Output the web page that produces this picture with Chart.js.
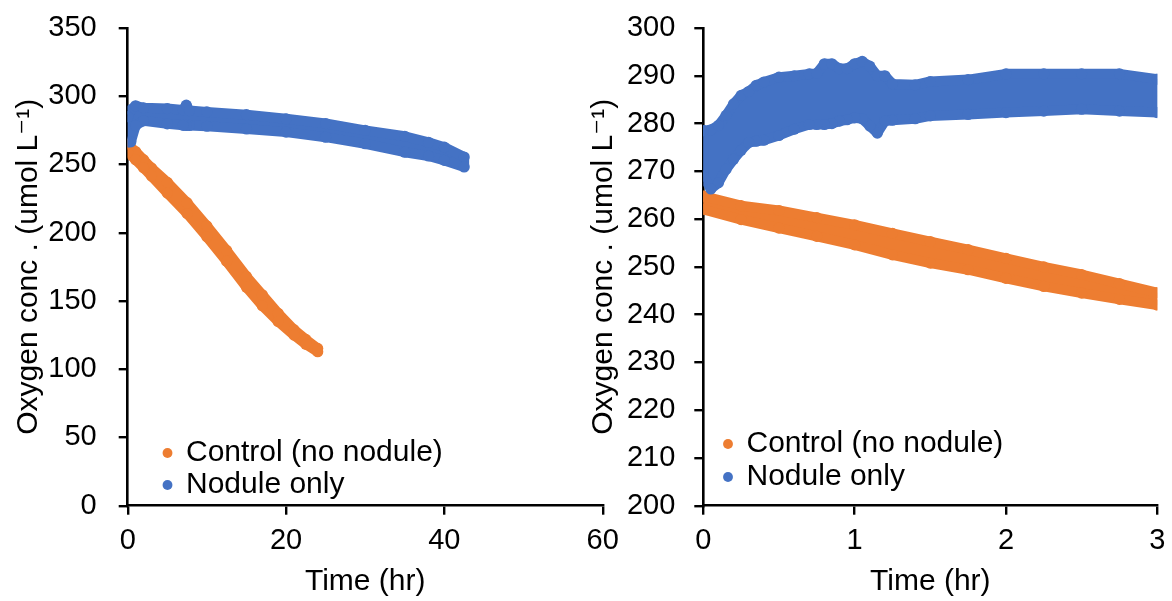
<!DOCTYPE html>
<html><head><meta charset="utf-8">
<script src="https://cdn.jsdelivr.net/npm/chart.js@4.4.1/dist/chart.umd.min.js"></script>
<style>
html,body{margin:0;padding:0;background:#fff;}
#wrap{position:relative;width:1172px;height:601px;overflow:hidden;background:#fff;}
canvas{position:absolute;left:0;top:0;}
</style></head><body>
<div id="wrap"><canvas id="c1" width="1172" height="601"></canvas><canvas id="c2" width="1172" height="601"></canvas></div>
<script>
// ---------- Data (upper/lower edges of each point cloud) ----------
const seriesNames = ['Control (no nodule)', 'Nodule only'];
const xTitle = 'Time (hr)';
const yTitle = 'Oxygen conc . (umol L\u207B\u00B9)';

// Left panel (0-60 hr)
const leftControlTime  = [0, 1, 2, 3, 5, 7.5, 10, 12.5, 15, 17, 19, 21, 22.5, 24];
const leftControlUpper = [265, 259.5, 253.5, 247.5, 237, 222, 205, 187, 168, 154.5, 141, 129, 121.8, 115.2];
const leftControlLower = [259, 253.5, 247.5, 241.5, 229, 214, 197, 179, 160, 146.5, 135, 125, 118.2, 112.8];

const leftNoduleTime  = [0, 0.4, 1, 2, 5, 7, 7.4, 7.8, 10, 15, 20, 25, 30, 35, 38, 40, 42.5];
const leftNoduleUpper = [285, 290, 293, 291.5, 291, 290, 293.5, 289.5, 288.5, 286.5, 283.5, 280, 275, 270.7, 266.3, 262.7, 255.5];
const leftNoduleLower = [266.4, 266.6, 278.5, 282, 279.8, 278.7, 278.6, 278.6, 278, 276, 273.7, 270, 265.2, 259, 256.2, 253, 248.2];

// Right panel (0-3 hr)
const rightControlTime  = [0, 0.25, 0.5, 0.75, 1, 1.25, 1.5, 1.75, 2, 2.25, 2.5, 2.75, 3];
const rightControlUpper = [264.8, 262.8, 261.8, 260.3, 258.8, 257, 255.3, 253.6, 251.8, 250, 248.4, 246.5, 244.6];
const rightControlLower = [262, 259.9, 258.1, 256.4, 254.6, 252.5, 250.8, 249.4, 247.6, 245.9, 244.5, 243.2, 242];

const rightNoduleTime  = [0, 0.05, 0.1, 0.15, 0.2, 0.25, 0.3, 0.35, 0.4, 0.5, 0.6, 0.7, 0.75, 0.8, 0.85, 0.9, 0.95, 1.0, 1.05, 1.1, 1.15, 1.2, 1.25, 1.4, 1.5, 1.75, 2, 2.25, 2.5, 2.75, 3];
const rightNoduleUpper = [278.5, 278.7, 279.6, 281.7, 284.1, 285.9, 286.7, 288, 288.7, 289.7, 290, 290.4, 290.5, 292.5, 292.5, 291.5, 291.5, 292.5, 293, 292, 290, 290, 288.3, 288.1, 288.8, 289.2, 290.4, 290.4, 290.4, 290.4, 289.3];
const rightNoduleLower = [269, 266.3, 267.6, 270.4, 272.5, 274.4, 276, 276.3, 276.5, 277.5, 278.8, 279.8, 279.8, 279.8, 280, 280.5, 280.8, 281.2, 281, 279.5, 278, 280.5, 280.7, 281, 281.6, 281.9, 282.3, 282.6, 283, 282.6, 282.3];

// Axis ticks
const leftXTicks  = [0, 20, 40, 60];
const leftYTicks  = [0, 50, 100, 150, 200, 250, 300, 350];
const rightXTicks = [0, 1, 2, 3];
const rightYTicks = [200, 210, 220, 230, 240, 250, 260, 270, 280, 290, 300];

// ---------- Styling / chart construction ----------
const ORANGE = '#ED7D31', BLUE = '#4472C4';
const FAMILY = "'Liberation Sans', Arial, 'DejaVu Sans', sans-serif";

function band(t, up, lo) {
  const pts = [];
  for (let i = 0; i < t.length; i++) pts.push({x: t[i], y: up[i]});
  for (let i = t.length - 1; i >= 0; i--) pts.push({x: t[i], y: lo[i]});
  pts.push({x: t[0], y: up[0]});
  return pts;
}
function ds(label, color, data, order) {
  return {
    label, data, order,
    showLine: true, fill: 'shape', tension: 0,
    backgroundColor: color, borderColor: color, borderWidth: 10,
    borderJoinStyle: 'round', borderCapStyle: 'round',
    pointRadius: 5.6, pointHoverRadius: 5.6, pointBorderWidth: 0,
    pointBackgroundColor: color, pointStyle: 'circle'
  };
}

const legendPlace = {
  id: 'legendPlace',
  afterLayout(chart, args, opts) {
    const lg = chart.legend;
    if (!lg) return;
    lg.left = opts.x; lg.right = opts.x + lg.width;
    lg.top = opts.y; lg.bottom = opts.y + 400;
  }
};

function makeChart(id, p) {
  const ticksFromList = list => (axis) => { axis.ticks = list.map(v => ({value: v})); };
  return new Chart(document.getElementById(id), {
    type: 'scatter',
    data: {
      datasets: [
        ds(seriesNames[0], ORANGE, band(p.cT, p.cU, p.cL), 1),
        ds(seriesNames[1], BLUE, band(p.nT, p.nU, p.nL), 0)
      ]
    },
    plugins: [legendPlace],
    options: {
      responsive: false, animation: false, events: [],
      layout: {padding: {left: p.padL, right: p.padR, top: 28, bottom: 0}},
      scales: {
        x: {
          type: 'linear', min: p.xT[0], max: p.xT[p.xT.length - 1],
          afterBuildTicks: ticksFromList(p.xT),
          afterFit: s => { s.height = 95.3; s.paddingLeft = 0; s.paddingRight = 0; },
          border: {display: true, color: '#000', width: 2.6},
          grid: {display: true, drawOnChartArea: false, drawTicks: true, tickLength: 9, color: '#000', lineWidth: 2.4},
          ticks: {color: '#000', font: {family: FAMILY, size: 29}, padding: 9, maxRotation: 0, autoSkip: false},
          title: {display: true, text: xTitle, color: '#000', font: {family: FAMILY, size: 30}, padding: {top: 0, bottom: 1}}
        },
        y: {
          type: 'linear', min: p.yT[0], max: p.yT[p.yT.length - 1],
          afterBuildTicks: ticksFromList(p.yT),
          afterFit: s => { s.width = p.yW; s.paddingTop = 0; s.paddingBottom = 0; },
          border: {display: true, color: '#000', width: 2.6},
          grid: {display: true, drawOnChartArea: false, drawTicks: true, tickLength: 9, color: '#000', lineWidth: 2.4},
          ticks: {color: '#000', font: {family: FAMILY, size: 29}, padding: p.yPad, autoSkip: false},
          title: {display: true, text: yTitle, color: '#000', font: {family: FAMILY, size: 30}, padding: {top: 11, bottom: 0}}
        }
      },
      plugins: {
        tooltip: {enabled: false},
        legendPlace: {x: p.lgX, y: p.lgY},
        legend: {
          position: 'chartArea', align: 'start',
          labels: {
            color: '#000', font: {family: FAMILY, size: 30},
            usePointStyle: true, pointStyle: 'circle', boxWidth: 7, boxHeight: 7, padding: p.lgPad,
            sort: (a, b) => a.datasetIndex - b.datasetIndex
          }
        }
      }
    }
  });
}

makeChart('c1', {
  cT: leftControlTime, cU: leftControlUpper, cL: leftControlLower,
  nT: leftNoduleTime, nU: leftNoduleUpper, nL: leftNoduleLower,
  xT: leftXTicks, yT: leftYTicks,
  padL: 0, padR: 569.3, yW: 127.7, yPad: 22, lgX: 162, lgY: 436, lgPad: 2
});
makeChart('c2', {
  cT: rightControlTime, cU: rightControlUpper, cL: rightControlLower,
  nT: rightNoduleTime, nU: rightNoduleUpper, nL: rightNoduleLower,
  xT: rightXTicks, yT: rightYTicks,
  padL: 575, padR: 14.7, yW: 128.3, yPad: 19, lgX: 721.5, lgY: 426, lgPad: 3
});
</script>
</body></html>
